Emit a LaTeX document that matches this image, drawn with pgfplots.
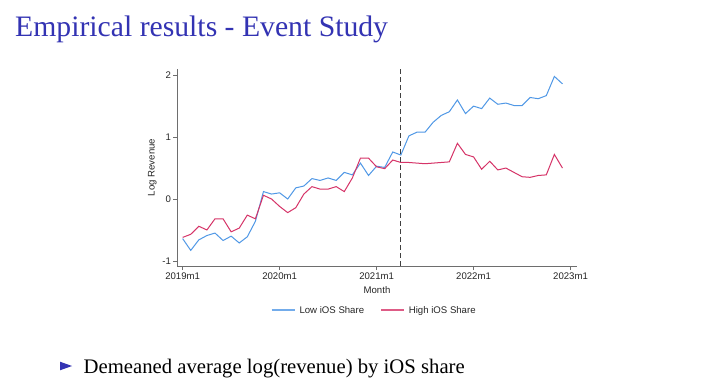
\documentclass[border=0pt]{standalone}
\usepackage{pgfplots}
\pgfplotsset{compat=1.18}
\usepackage{fontspec}
\setmainfont{Liberation Serif}
\newfontfamily\chartfont{Liberation Sans}
\definecolor{lowc}{RGB}{80,152,230}
\definecolor{highc}{RGB}{214,52,104}
\definecolor{beamblue}{RGB}{51,51,179}
\definecolor{axgray}{RGB}{110,110,110}
\pgfplotstableread{
m low high
0 -0.64 -0.62
1 -0.83 -0.57
2 -0.66 -0.44
3 -0.59 -0.50
4 -0.55 -0.32
5 -0.67 -0.32
6 -0.60 -0.53
7 -0.71 -0.47
8 -0.61 -0.26
9 -0.36 -0.32
10 0.12 0.06
11 0.08 0.00
12 0.10 -0.12
13 0.00 -0.22
14 0.18 -0.14
15 0.21 0.08
16 0.33 0.20
17 0.30 0.16
18 0.34 0.16
19 0.30 0.20
20 0.43 0.12
21 0.39 0.34
22 0.58 0.66
23 0.38 0.66
24 0.53 0.52
25 0.51 0.49
26 0.76 0.63
27 0.71 0.59
28 1.02 0.59
29 1.08 0.58
30 1.08 0.57
31 1.24 0.58
32 1.35 0.59
33 1.41 0.60
34 1.60 0.90
35 1.38 0.72
36 1.50 0.68
37 1.46 0.48
38 1.63 0.61
39 1.53 0.47
40 1.55 0.50
41 1.51 0.43
42 1.51 0.36
43 1.64 0.35
44 1.62 0.38
45 1.67 0.39
46 1.98 0.72
47 1.86 0.50
}\datatable
\begin{document}
\begin{tikzpicture}
\path[use as bounding box, fill=white] (0,0) rectangle (720pt,391pt);
\node[anchor=base west, inner sep=0pt, text=beamblue, font=\fontsize{29.7}{32}\selectfont] at (15pt,354pt) {Empirical results - Event Study};
\fill[beamblue] (60pt,29.3pt) -- (60pt,20.7pt) -- (72pt,25pt) -- cycle;
\node[anchor=base west, inner sep=0pt, font=\fontsize{20.7}{24}\selectfont] at (83.5pt,17.7pt) {Demeaned average log(revenue) by iOS share};
\begin{axis}[
  at={(177pt,125pt)}, anchor=south west,
  scale only axis, width=400pt, height=197pt,
  xmin=-0.7, xmax=48.8, ymin=-1.082, ymax=2.1,
  axis x line=bottom, axis y line=left,
  axis line style={-, axgray, line width=0.9pt},
  tick style={axgray, line width=0.7pt},
  tick align=outside, major tick length=4pt,
  xtick={0,12,24,36,48},
  xticklabels={2019m1,2020m1,2021m1,2022m1,2023m1},
  ytick={-1,0,1,2},
  yticklabels={-1,0,1,2},
  font=\chartfont\fontsize{9.6}{10}\selectfont,
  ticklabel style={font=\chartfont\fontsize{9.6}{10}\selectfont, text=black!85},
  /pgf/number format/assume math mode=true,
  xticklabel style={yshift=1pt},
  yticklabel style={xshift=1.5pt},
  xlabel={Month}, ylabel={Log Revenue},
  xlabel style={font=\chartfont\fontsize{9.6}{10}\selectfont, yshift=0pt, text=black!85},
  ylabel style={font=\chartfont\fontsize{9.6}{10}\selectfont, yshift=-1pt, text=black!85},
  legend columns=2,
  legend style={at={(0.493,-0.225)}, anchor=center, draw=none, fill=none,
    font=\chartfont\fontsize{9.6}{10}\selectfont, text=black!85,
    /tikz/every odd column/.append style={column sep=2pt},
    /tikz/every even column/.append style={column sep=14pt}},
  legend cell align=left,
  legend image code/.code={\draw[#1, line width=1.8pt, opacity=0.8] (0pt,0pt) -- (23pt,0pt);},
  clip=false,
]
\addplot[lowc, line width=1pt] table[x=m, y=low] {\datatable};
\addlegendentry{Low iOS Share}
\addplot[highc, line width=1pt] table[x=m, y=high] {\datatable};
\addlegendentry{High iOS Share}
\addplot[black!75, line width=0.9pt, dash pattern=on 5pt off 3pt, forget plot] coordinates {(27,-1.082) (27,2.1)};
\end{axis}
\end{tikzpicture}
\end{document}
